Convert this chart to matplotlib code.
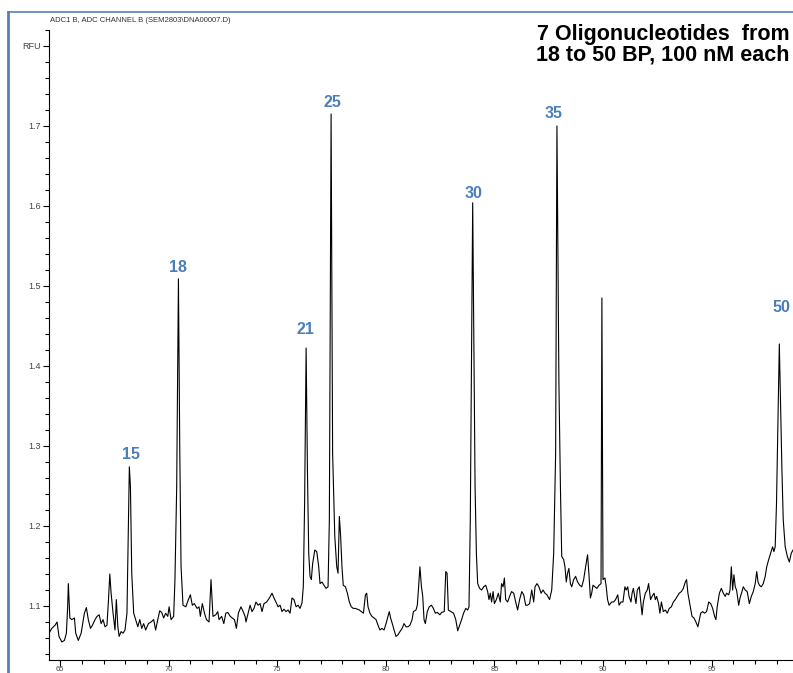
import matplotlib.pyplot as plt
from matplotlib.lines import Line2D
from matplotlib.ticker import MultipleLocator, FixedLocator

# electropherogram trace (minutes, RFU)
time_min = [
    64.49, 64.62, 64.77, 64.86, 64.95, 65.08, 65.20, 65.29, 65.35, 65.38,
    65.45, 65.54, 65.66, 65.72, 65.84, 65.97, 66.12, 66.21, 66.30, 66.40,
    66.49, 66.61, 66.70, 66.80, 66.89, 66.98, 67.07, 67.16, 67.23, 67.29,
    67.35, 67.44, 67.53, 67.59, 67.66, 67.72, 67.81, 67.90, 67.99, 68.08,
    68.15, 68.19, 68.24, 68.30, 68.39, 68.48, 68.58, 68.67, 68.76, 68.85,
    68.94, 69.07, 69.19, 69.31, 69.40, 69.50, 69.59, 69.68, 69.77, 69.86,
    69.96, 70.02, 70.11, 70.23, 70.29, 70.37, 70.45, 70.51, 70.57, 70.66,
    70.79, 70.91, 71.00, 71.09, 71.18, 71.31, 71.40, 71.46, 71.55, 71.65,
    71.74, 71.86, 71.95, 72.04, 72.17, 72.26, 72.32, 72.44, 72.54, 72.63,
    72.72, 72.84, 72.93, 73.03, 73.12, 73.21, 73.33, 73.43,
    73.52, 73.56, 73.66, 73.75, 73.84, 73.93, 74.02, 74.12, 74.21, 74.30,
    74.39, 74.51, 74.64, 74.76, 74.85, 74.94, 75.04, 75.13, 75.22, 75.31,
    75.40, 75.50, 75.59, 75.68, 75.77, 75.87, 75.96, 76.05, 76.14, 76.20,
    76.26, 76.33, 76.39, 76.45, 76.51, 76.57, 76.63, 76.73, 76.82, 76.91,
    76.97, 77.06, 77.15, 77.25, 77.34, 77.40, 77.48, 77.55, 77.65, 77.74,
    77.80, 77.86, 77.92, 77.98, 78.04, 78.14, 78.23, 78.32, 78.41, 78.50,
    78.60, 78.69, 78.78, 78.87, 78.97, 79.06, 79.12, 79.18, 79.27, 79.36,
    79.46, 79.55, 79.64, 79.73, 79.82, 79.92, 80.01, 80.10, 80.16, 80.22,
    80.32, 80.38, 80.47, 80.56, 80.65, 80.75, 80.84, 80.93, 81.02, 81.11,
    81.21, 81.27, 81.39, 81.45, 81.51, 81.57, 81.64, 81.70, 81.76, 81.82,
    81.91, 82.00, 82.10, 82.19, 82.28, 82.37, 82.49,
    82.57, 82.69, 82.76, 82.82, 82.88, 83.00, 83.12, 83.22, 83.31, 83.40,
    83.49, 83.58, 83.68, 83.77, 83.83, 83.89, 84.00, 84.11, 84.17, 84.23,
    84.32, 84.41, 84.51, 84.60, 84.69, 84.75, 84.81, 84.87, 84.94, 85.00,
    85.09, 85.18, 85.27, 85.33, 85.40, 85.46, 85.52, 85.61, 85.70, 85.79,
    85.89, 85.98, 86.07, 86.16, 86.26, 86.35, 86.44, 86.53, 86.62, 86.72,
    86.81, 86.87, 86.96, 87.05, 87.15, 87.24, 87.33, 87.42, 87.54, 87.64,
    87.73, 87.82, 87.88, 87.97, 88.04, 88.10, 88.19, 88.25, 88.31, 88.37,
    88.43, 88.50, 88.56, 88.65, 88.74, 88.83, 88.93, 89.02, 89.11, 89.20,
    89.29, 89.36, 89.42, 89.48, 89.54, 89.63, 89.72, 89.82, 89.91, 89.95,
    90.00, 90.09, 90.15, 90.21, 90.28, 90.40, 90.49, 90.58, 90.68, 90.74,
    90.83, 90.92, 91.01, 91.07, 91.14, 91.20,
    91.29, 91.34, 91.40, 91.46, 91.52, 91.58, 91.67, 91.73, 91.80, 91.86,
    91.95, 92.04, 92.10, 92.19, 92.26, 92.35, 92.41, 92.47, 92.56, 92.62,
    92.69, 92.78, 92.87, 92.96, 93.05, 93.15, 93.24, 93.33, 93.42, 93.51,
    93.61, 93.70, 93.79, 93.85, 93.91, 94.01, 94.10, 94.19, 94.28, 94.37,
    94.44, 94.50, 94.59, 94.68, 94.77, 94.87, 94.96, 95.05, 95.14, 95.20,
    95.26, 95.36, 95.45, 95.54, 95.63, 95.69, 95.79, 95.85, 95.91, 95.97,
    96.03, 96.09, 96.15, 96.25, 96.31, 96.40, 96.46, 96.55, 96.64, 96.74,
    96.83, 96.92, 97.01, 97.08, 97.14, 97.20, 97.29, 97.38, 97.47, 97.54,
    97.63, 97.72, 97.81, 97.87, 97.93, 97.99, 98.12, 98.24, 98.30, 98.39,
    98.49, 98.58, 98.67, 98.75,
]
rfu = [
    1.066, 1.072, 1.076, 1.080, 1.062, 1.055, 1.057, 1.066, 1.099, 1.128,
    1.085, 1.083, 1.085, 1.066, 1.057, 1.066, 1.091, 1.098, 1.083, 1.072,
    1.076, 1.083, 1.087, 1.089, 1.078, 1.083, 1.074, 1.076, 1.108, 1.140,
    1.116, 1.091, 1.070, 1.108, 1.074, 1.062, 1.068, 1.066, 1.070, 1.091,
    1.208, 1.274, 1.249, 1.141, 1.091, 1.083, 1.074, 1.083, 1.072, 1.078,
    1.070, 1.078, 1.080, 1.083, 1.070, 1.083, 1.094, 1.092, 1.085, 1.091,
    1.087, 1.099, 1.083, 1.087, 1.133, 1.249, 1.509, 1.300, 1.150, 1.101,
    1.099, 1.108, 1.114, 1.101, 1.103, 1.097, 1.099, 1.087, 1.103, 1.091,
    1.083, 1.080, 1.133, 1.087, 1.089, 1.093, 1.083, 1.087, 1.078, 1.091,
    1.092, 1.087, 1.085, 1.083, 1.072, 1.091, 1.099, 1.093,
    1.087, 1.080, 1.091, 1.101, 1.093, 1.097, 1.105, 1.101, 1.103, 1.093,
    1.103, 1.105, 1.110, 1.116, 1.110, 1.105, 1.099, 1.101, 1.093, 1.096,
    1.093, 1.095, 1.091, 1.110, 1.108, 1.099, 1.101, 1.097, 1.104, 1.124,
    1.228, 1.4225, 1.270, 1.166, 1.137, 1.133, 1.153, 1.170, 1.168, 1.149,
    1.128, 1.130, 1.126, 1.122, 1.124, 1.208, 1.715, 1.291, 1.187, 1.149,
    1.141, 1.212, 1.187, 1.149, 1.126, 1.124, 1.116, 1.105, 1.099, 1.097,
    1.097, 1.096, 1.095, 1.093, 1.091, 1.114, 1.116, 1.099, 1.091, 1.087,
    1.085, 1.083, 1.076, 1.070, 1.072, 1.070, 1.078, 1.087, 1.093, 1.085,
    1.076, 1.070, 1.062, 1.064, 1.068, 1.072, 1.078, 1.074, 1.074, 1.076,
    1.083, 1.093, 1.095, 1.101, 1.124, 1.149, 1.124, 1.112, 1.083, 1.078,
    1.093, 1.099, 1.101, 1.097, 1.091, 1.092, 1.089,
    1.092, 1.093, 1.143, 1.141, 1.095, 1.093, 1.091, 1.083, 1.069, 1.076,
    1.083, 1.091, 1.097, 1.095, 1.099, 1.208, 1.604, 1.249, 1.166, 1.128,
    1.122, 1.120, 1.124, 1.126, 1.118, 1.108, 1.116, 1.105, 1.118, 1.103,
    1.108, 1.116, 1.105, 1.128, 1.124, 1.135, 1.108, 1.105, 1.112, 1.118,
    1.116, 1.105, 1.095, 1.108, 1.118, 1.114, 1.101, 1.101, 1.103, 1.120,
    1.105, 1.124, 1.128, 1.124, 1.116, 1.120, 1.116, 1.114, 1.108, 1.120,
    1.166, 1.291, 1.700, 1.380, 1.249, 1.162, 1.158, 1.149, 1.130, 1.141,
    1.147, 1.128, 1.124, 1.133, 1.137, 1.130, 1.126, 1.124, 1.133, 1.149,
    1.164, 1.137, 1.110, 1.116, 1.126, 1.124, 1.122, 1.126, 1.128, 1.485,
    1.133, 1.135, 1.124, 1.108, 1.101, 1.105, 1.105, 1.108, 1.114, 1.101,
    1.105, 1.105, 1.124, 1.120, 1.124, 1.112,
    1.105, 1.116, 1.122, 1.112, 1.103, 1.120, 1.124, 1.108, 1.089, 1.105,
    1.116, 1.120, 1.128, 1.108, 1.112, 1.116, 1.108, 1.112, 1.103, 1.091,
    1.105, 1.093, 1.095, 1.091, 1.097, 1.099, 1.105, 1.108, 1.112, 1.116,
    1.118, 1.122, 1.130, 1.133, 1.116, 1.101, 1.087, 1.085, 1.080, 1.074,
    1.083, 1.091, 1.093, 1.091, 1.093, 1.105, 1.103, 1.097, 1.087, 1.083,
    1.099, 1.116, 1.122, 1.116, 1.112, 1.116, 1.114, 1.120, 1.149, 1.120,
    1.139, 1.124, 1.120, 1.101, 1.110, 1.118, 1.124, 1.120, 1.118, 1.103,
    1.112, 1.118, 1.128, 1.143, 1.130, 1.126, 1.124, 1.128, 1.137, 1.149,
    1.158, 1.166, 1.174, 1.168, 1.174, 1.228, 1.4275, 1.270, 1.208, 1.174,
    1.162, 1.155, 1.166, 1.170,
]

# fragment size labels and where they sit
peak_labels = ["15", "18", "21", "25", "30", "35", "50"]
label_x = [68.27, 70.43, 76.28, 77.52, 84.06, 87.74, 98.24]
label_y = [1.289, 1.5225, 1.445, 1.729, 1.616, 1.716, 1.4725]

x_ticks = [65, 70, 75, 80, 85, 90, 95]
y_ticks = [1.1, 1.2, 1.3, 1.4, 1.5, 1.6, 1.7, 1.8]
y_tick_labels = ["1.1", "1.2", "1.3", "1.4", "1.5", "1.6", "1.7", "RFU"]

narrow = ["Liberation Sans Narrow", "Liberation Sans", "DejaVu Sans"]
plt.rcParams["font.family"] = ["Liberation Sans", "DejaVu Sans"]

fig = plt.figure(figsize=(7.93, 6.73), dpi=100)
ax = fig.add_axes([49 / 793, 13 / 673, 744 / 793, 630 / 673])

ax.plot(time_min, rfu, color="black", linewidth=0.8)

for txt, lx, ly in zip(peak_labels, label_x, label_y):
    ax.text(lx, ly, txt, color="#4a7ebb", fontsize=11.5, fontweight="bold",
            ha="center", va="center")

ax.set_xlim(64.49, 98.75)
ax.set_ylim(1.0325, 1.82)
ax.xaxis.set_major_locator(FixedLocator(x_ticks))
ax.xaxis.set_minor_locator(MultipleLocator(1))
ax.yaxis.set_major_locator(FixedLocator(y_ticks))
ax.yaxis.set_minor_locator(MultipleLocator(0.02))
ax.set_xticklabels([str(t) for t in x_ticks], fontsize=5.5, color="#444444",
                   family=narrow)
ax.set_yticklabels(y_tick_labels, fontsize=6.5, color="#444444", family=narrow)

for side in ["top", "right"]:
    ax.spines[side].set_visible(False)
ax.spines["left"].set_linewidth(0.8)
ax.spines["bottom"].set_linewidth(0.8)
ax.tick_params(which="major", length=4, width=0.8, direction="out", pad=2)
ax.tick_params(axis="x", which="major", pad=0.5)
ax.tick_params(which="minor", length=3, width=0.8, direction="out")

fig.text(50 / 793, 1 - 20 / 673, r"ADC1 B, ADC CHANNEL B (SEM2803\DNA00007.D)",
         fontsize=5.5, color="#333333", va="center", family=narrow)
fig.text(790 / 793, 1 - 45 / 673, "7 Oligonucleotides  from\n18 to 50 BP, 100 nM each",
         fontsize=15.5, fontweight="bold", ha="right", va="center", linespacing=0.95)

# blue frame of the original viewer window
fig.add_artist(Line2D([8 / 793, 8 / 793], [0, 1 - 12 / 673], color="#5b7fb5",
                      linewidth=2, transform=fig.transFigure))
fig.add_artist(Line2D([8 / 793, 1], [1 - 12 / 673, 1 - 12 / 673], color="#5b7fb5",
                      linewidth=1.2, transform=fig.transFigure))

fig.savefig("out.png", dpi=100)
plt.close(fig)
